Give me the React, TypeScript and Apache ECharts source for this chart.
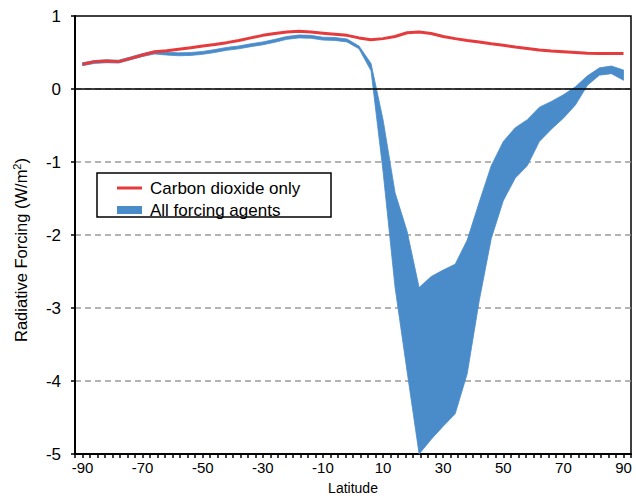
import React, { useEffect, useRef } from 'react';
import * as echarts from 'echarts';

// Latitude grid (degrees)
const latitudes = [
  -90, -86, -82, -78, -74, -70, -66, -62, -58, -54, -50, -46, -42, -38, -34, -30,
  -26, -22, -18, -14, -10, -6, -2, 2, 6, 10, 14, 18, 22, 26, 30, 34, 38, 42, 46,
  50, 54, 58, 62, 66, 70, 74, 78, 82, 86, 90,
];

// Radiative forcing, carbon dioxide only (W/m2)
const co2Only = [
  0.34, 0.375, 0.385, 0.375, 0.42, 0.465, 0.51, 0.525, 0.545, 0.565, 0.59, 0.61,
  0.635, 0.665, 0.7, 0.735, 0.76, 0.78, 0.79, 0.78, 0.765, 0.75, 0.735, 0.7, 0.675,
  0.69, 0.72, 0.77, 0.78, 0.76, 0.72, 0.69, 0.665, 0.645, 0.62, 0.6, 0.575, 0.555,
  0.535, 0.52, 0.51, 0.5, 0.49, 0.485, 0.485, 0.485,
];

// All forcing agents: lower bound of the range (W/m2)
const allForcingLow = [
  0.32, 0.35, 0.36, 0.355, 0.4, 0.445, 0.48, 0.465, 0.455, 0.46, 0.475, 0.5, 0.53,
  0.55, 0.58, 0.605, 0.64, 0.68, 0.7, 0.695, 0.67, 0.665, 0.645, 0.55, 0.25, -1.13,
  -2.72, -3.87, -5.0, -4.8, -4.62, -4.45, -3.9, -2.9, -2.05, -1.53, -1.22, -1.05,
  -0.72, -0.55, -0.4, -0.22, 0.05, 0.19, 0.21, 0.12,
];

// All forcing agents: upper bound of the range (W/m2)
const allForcingHigh = [
  0.36, 0.39, 0.4, 0.395, 0.44, 0.485, 0.52, 0.505, 0.495, 0.5, 0.515, 0.54, 0.57,
  0.59, 0.62, 0.645, 0.68, 0.72, 0.74, 0.735, 0.71, 0.705, 0.685, 0.59, 0.35, -0.42,
  -1.42, -1.95, -2.72, -2.57, -2.48, -2.4, -2.07, -1.55, -1.05, -0.72, -0.53, -0.42,
  -0.25, -0.17, -0.08, 0.03, 0.18, 0.29, 0.315, 0.26,
];

const xTickLabels = [-90, -70, -50, -30, -10, 10, 30, 50, 70, 90];
const yTickLabels = [-5, -4, -3, -2, -1, 0, 1];

const RED = '#e53b3d';
const BLUE = '#4a8bca';
const FONT = '"Liberation Sans", Arial, Helvetica, sans-serif';

export default function App() {
  const ref = useRef<HTMLDivElement>(null);

  useEffect(() => {
    document.body.style.margin = '0';
    const chart = echarts.init(ref.current as HTMLDivElement, null, { renderer: 'svg' });

    const bandData = latitudes.map((lat, i) => [lat, allForcingLow[i], allForcingHigh[i]]);
    const co2Data = latitudes.map((lat, i) => [lat, co2Only[i]]);

    const renderBand = (params: any, api: any) => {
      if (params.dataIndex !== 0) return null;
      const upper: number[][] = [];
      const lower: number[][] = [];
      for (let i = 0; i < bandData.length; i++) {
        upper.push(api.coord([bandData[i][0], bandData[i][2]]));
        lower.push(api.coord([bandData[i][0], bandData[i][1]]));
      }
      const points = upper.concat(lower.reverse());
      return {
        type: 'polygon',
        shape: { points },
        style: { fill: BLUE, stroke: BLUE, lineWidth: 0.8, lineJoin: 'round' },
        silent: true,
      };
    };

    const legendText = {
      fontSize: 17,
      color: '#000',
      fontFamily: FONT,
      padding: [0, 0, 0, 3],
      lineHeight: 18,
    };

    chart.setOption({
      animation: false,
      textStyle: { fontFamily: FONT, color: '#000' },
      grid: {
        left: 75,
        right: 5,
        top: 16,
        bottom: 42,
        show: true,
        borderColor: '#000',
        borderWidth: 1.5,
        backgroundColor: 'transparent',
        containLabel: false,
        outerBoundsMode: 'none',
      },
      legend: [
        {
          data: [{ name: 'Carbon dioxide only', icon: 'rect', itemStyle: { color: RED } }],
          left: 112,
          top: 174,
          itemWidth: 25,
          itemHeight: 3,
          selectedMode: false,
          textStyle: legendText,
        },
        {
          data: [{ name: 'All forcing agents', icon: 'rect', itemStyle: { color: BLUE } }],
          left: 112,
          top: 196,
          itemWidth: 25,
          itemHeight: 8,
          selectedMode: false,
          textStyle: legendText,
        },
      ],
      graphic: [
        {
          type: 'rect',
          shape: { x: 97, y: 173, width: 234, height: 44 },
          style: { fill: 'transparent', stroke: '#000', lineWidth: 1.5 },
          z: 0,
          silent: true,
        },
      ],
      xAxis: {
        type: 'value',
        min: -92.5,
        max: 92.5,
        interval: 2.5,
        name: 'Latitude',
        nameLocation: 'middle',
        nameGap: 26,
        nameTextStyle: { fontSize: 14, lineHeight: 15, color: '#000', fontFamily: FONT },
        axisLine: { show: true, onZero: false, lineStyle: { color: '#000', width: 2 } },
        axisTick: { show: true, inside: false, length: 4, lineStyle: { color: '#000', width: 1.5 } },
        axisLabel: {
          fontSize: 15,
          color: '#000',
          margin: 6,
          fontFamily: FONT,
          formatter: (v: number) => {
            const r = Math.round(v);
            return Math.abs(v - r) < 1e-6 && xTickLabels.includes(r) ? String(r) : '';
          },
        },
        splitLine: { show: false },
      },
      yAxis: {
        type: 'value',
        min: yTickLabels[0],
        max: yTickLabels[yTickLabels.length - 1],
        interval: 1,
        name: '{a|Radiative Forcing (W/m}{b|2}{a|)}',
        nameLocation: 'middle',
        nameRotate: 90,
        nameGap: 44,
        nameTextStyle: {
          color: '#000',
          fontFamily: FONT,
          padding: [0, 30, 0, 0],
          rich: {
            a: { fontSize: 16.5, color: '#000', fontFamily: FONT, lineHeight: 20 },
            b: { fontSize: 11, color: '#000', fontFamily: FONT, lineHeight: 12, verticalAlign: 'top' },
          },
        },
        axisLine: { show: true, onZero: false, lineStyle: { color: '#000', width: 2 } },
        axisTick: { show: true, inside: false, length: 4, lineStyle: { color: '#000', width: 1.5 } },
        axisLabel: { fontSize: 17, color: '#000', margin: 14, fontFamily: FONT },
        splitLine: {
          show: true,
          showMinLine: false,
          showMaxLine: false,
          lineStyle: { color: '#9a9a9a', width: 1.5, type: [6, 4] },
        },
      },
      series: [
        {
          name: 'All forcing agents',
          type: 'custom',
          data: bandData,
          encode: { x: 0, y: [1, 2] },
          renderItem: renderBand,
          itemStyle: { color: BLUE },
          clip: true,
          z: 2,
          silent: true,
        },
        {
          name: 'Carbon dioxide only',
          type: 'line',
          data: co2Data,
          symbol: 'none',
          itemStyle: { color: RED },
          lineStyle: { color: RED, width: 3 },
          z: 3,
          silent: true,
          markLine: {
            silent: true,
            symbol: 'none',
            label: { show: false },
            lineStyle: { color: '#000', width: 1.5, type: 'solid' },
            data: [{ yAxis: 0 }],
          },
        },
      ],
    });

    return () => {
      chart.dispose();
    };
  }, []);

  return <div ref={ref} style={{ width: 636, height: 496 }} />;
}
